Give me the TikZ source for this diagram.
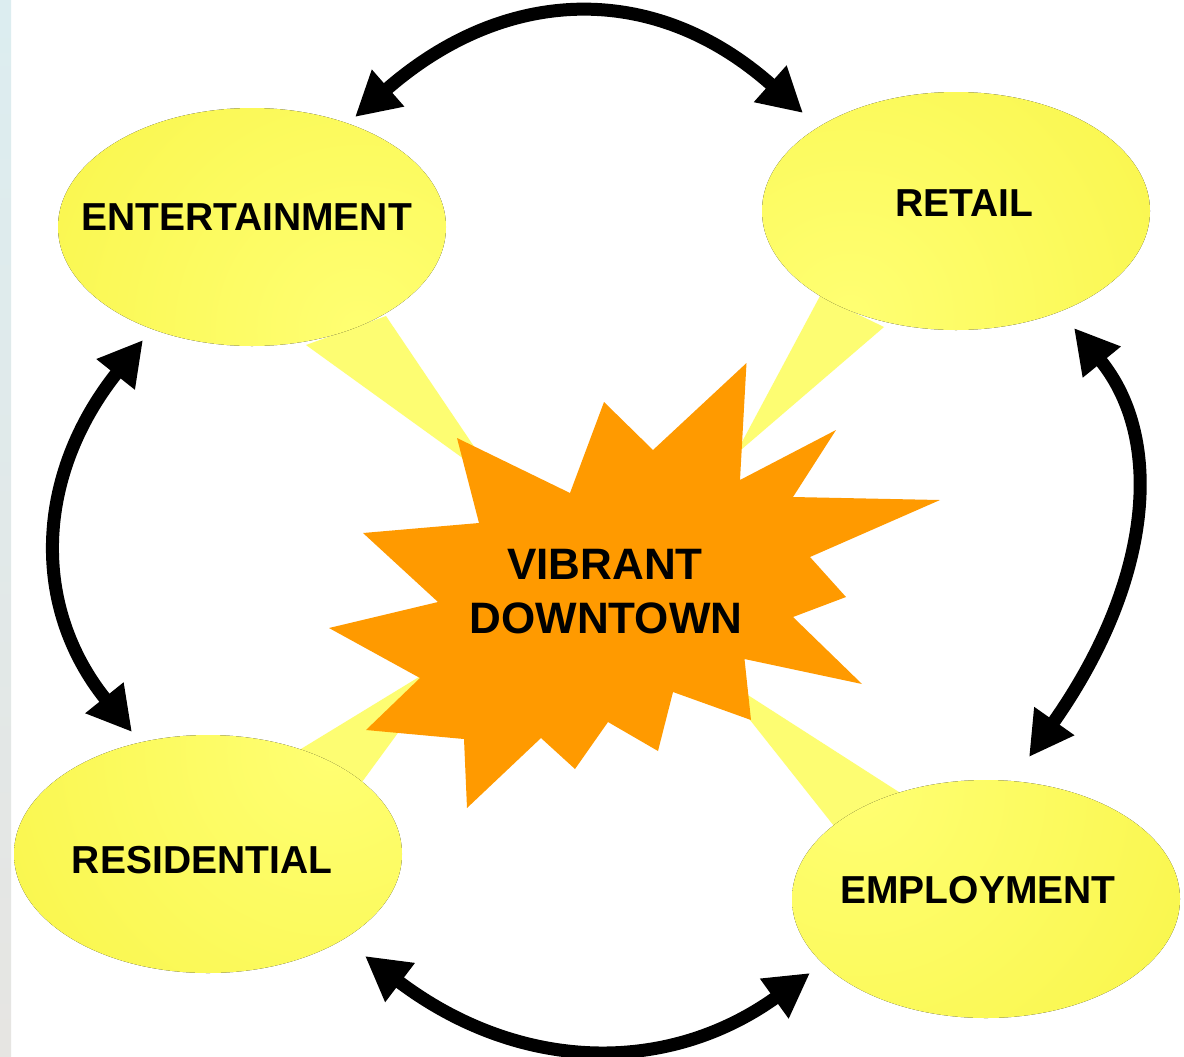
\documentclass[tikz,border=0pt]{standalone}
\usepackage{fontspec}
\setmainfont{Liberation Sans}
\usetikzlibrary{shapes.geometric,arrows.meta}
\definecolor{ydark}{HTML}{F4EF30}
\definecolor{ylight}{HTML}{FFFF72}
\definecolor{ytail}{HTML}{FDFD72}
\definecolor{starorange}{HTML}{FF9A00}
\definecolor{stripA}{HTML}{DCEDF0}
\definecolor{stripB}{HTML}{E6E5E2}
\tikzset{
  bubble/.style={ellipse, inner sep=0pt, minimum width=194pt, minimum height=119pt},
  lbl/.style={font=\fontsize{19.5pt}{23pt}\selectfont\bfseries, anchor=base, inner sep=0pt},
  ctr/.style={font=\fontsize{22pt}{26pt}\selectfont\bfseries, anchor=base, inner sep=0pt},
  tailshape/.style={fill=ytail},
  link/.style={line width=6.5pt, {Triangle[length=22pt,width=23pt]}-{Triangle[length=22pt,width=23pt]}},
}
\newcommand{\shadedbubble}[4]{%
  \begin{scope}
    \clip (#1,#2) ellipse [x radius=194, y radius=119];
    \fill[inner color=ylight, outer color=ydark] (#3) circle (660);
  \end{scope}
  \node[bubble] (#4) at (#1,#2) {};
}
\begin{document}
\begin{tikzpicture}[x=0.5pt,y=-0.5pt]
\useasboundingbox (0,0) rectangle (1184,1056);
\fill[white] (0,0) rectangle (1184,1056);
% slide edge strip
\fill[top color=stripA, bottom color=stripB] (0,0) rectangle (11,1056);

% callout tails
\fill[tailshape] (306,345) -- (386,316) -- (500,485) -- cycle;
\fill[tailshape] (820,296) -- (884,327) -- (735,455) -- cycle;
\fill[tailshape] (296,752) -- (362,782) -- (455,655) -- cycle;
\fill[tailshape] (902,794) -- (834,826) -- (712,672) -- cycle;

% bubbles
\shadedbubble{252}{227}{360,330}{ent}
\shadedbubble{956}{211}{850,315}{ret}
\shadedbubble{208}{854}{330,750}{res}
\shadedbubble{986}{899}{860,790}{emp}

% starburst
\fill[starorange] (746.5,363) -- (740,480) -- (836,430) -- (793,497) -- (940,500)
  -- (810,557) -- (846,597) -- (793,617) -- (862,684) -- (744.5,659)
  -- (751,720) -- (673,692) -- (658,751) -- (608,722) -- (575,769)
  -- (541,738) -- (467,808) -- (464,739) -- (366,730) -- (420,678)
  -- (329,628) -- (438,602) -- (363,533) -- (479,523) -- (457,438)
  -- (570,493) -- (604,402) -- (653,450) -- cycle;

% labels
\node[lbl] (entL) at (246.5,230) {ENTERTAINMENT};
\node[lbl] (retL) at (964,216) {RETAIL};
\node[lbl] (resL) at (202,873) {RESIDENTIAL};
\node[lbl] (empL) at (978,903) {EMPLOYMENT};
\node[ctr] (vib) at (605,579) {VIBRANT};
\node[ctr] (dt) at (606,633) {DOWNTOWN};

% arrow end points
\coordinate (entT) at (355,117);
\coordinate (retT) at (803,113);
\coordinate (entB) at (143,340);
\coordinate (resT) at (132,732);
\coordinate (retB) at (1074,328);
\coordinate (empT) at (1029,757);
\coordinate (resB) at (365,956);
\coordinate (empB) at (810,973);

\draw[link] (entT) .. controls (505.7,-15) and (655,-19) .. (retT);
\draw[link] (entB) .. controls (34.7,476) and (31,606.7) .. (resT);
\draw[link] (retB) .. controls (1166,440.7) and (1151,584) .. (empT);
\draw[link] (resB) .. controls (516.7,1071) and (665,1077) .. (empB);
\end{tikzpicture}
\end{document}
